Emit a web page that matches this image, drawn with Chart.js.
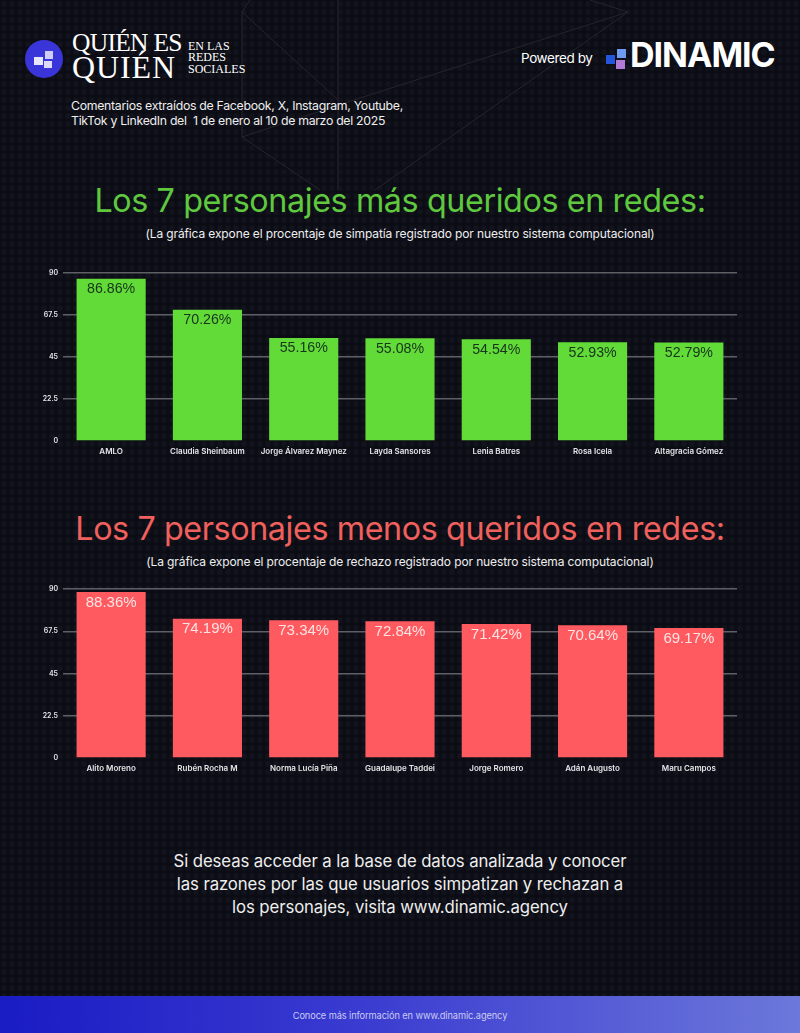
<!DOCTYPE html>
<html lang="es"><head><meta charset="utf-8">
<script src="https://cdn.jsdelivr.net/npm/chart.js@4"></script>
<style>
html,body{margin:0;padding:0;background:#0c0d15}
#page{position:relative;width:800px;height:1033px;overflow:hidden;color:#fff;font-family:Inter,sans-serif;
 background-color:#0c0d14;
 background-image:radial-gradient(circle at 4px 4px,rgba(40,42,62,.22) 0,rgba(40,42,62,.22) 2.2px,transparent 3.4px);
 background-size:8px 8px}
.t{position:absolute;white-space:nowrap}
.c{left:0;width:800px;text-align:center}
canvas{position:absolute;left:0}
svg{position:absolute;left:0;top:0}
.sq{position:absolute}
</style></head><body>
<div id="page">
<svg width="800" height="300"><g stroke="#24252c" stroke-width="1" fill="none">
<path d="M250 0L242 12L338 100M242 12V137L320 190M338 0V190M590 0L628 12L360 98L242 137M628 12L375 190"/></g></svg>

<div style="position:absolute;left:25px;top:40px;width:38px;height:38px;border-radius:50%;background:#3a35d8"></div>
<div class="sq" style="left:34px;top:57px;width:9px;height:8px;background:#e8e6fa"></div>
<div class="sq" style="left:45px;top:51px;width:8px;height:8px;background:#cfcdf6"></div>
<div class="sq" style="left:44px;top:61px;width:8px;height:7px;background:#dcdaf8"></div>
<div class="t" style="left:72px;top:28px;font:25.5px/30px 'Liberation Serif',serif;letter-spacing:-.7px">QUIÉN ES</div>
<div class="t" style="left:72px;top:47px;font:32px/40px 'Liberation Serif',serif;letter-spacing:.9px">QUIÉN</div>
<div class="t" style="left:188px;top:40.5px;font:12px/11.5px 'Liberation Serif',serif">EN LAS<br>REDES<br>SOCIALES</div>
<div class="t" style="left:521px;top:50px;font:13.5px/16px Inter,sans-serif;letter-spacing:-.4px">Powered by</div>
<div class="sq" style="left:606px;top:55px;width:9px;height:9px;background:#2456dc"></div>
<div class="sq" style="left:617px;top:49px;width:9px;height:9px;background:#6e9cf2"></div>
<div class="sq" style="left:616px;top:60px;width:9px;height:9px;background:#b07ad8"></div>
<div class="t" style="left:630px;top:35px;font:700 34px/40px Inter,sans-serif;letter-spacing:-1px">DINAMIC</div>
<div class="t" style="left:71px;top:99px;font:12.3px/14.5px Inter,sans-serif;letter-spacing:-.3px;color:#eee">Comentarios extraídos de Facebook, X, Instagram, Youtube,<br>TikTok y LinkedIn del&nbsp; 1 de enero al 10 de marzo del 2025</div>

<div class="t c" style="top:181px;font:32.3px/40px Inter,sans-serif;color:#5fc83f;letter-spacing:-.4px">Los 7 personajes más queridos en redes:</div>
<div class="t c" style="top:226px;font:12px/15px Inter,sans-serif;letter-spacing:-.12px;color:#eee">(La gráfica expone el procentaje de simpatía registrado por nuestro sistema computacional)</div>
<canvas id="c1" width="800" height="220" style="top:260px;width:800px;height:220px"></canvas>

<div class="t c" style="top:509px;font:32.3px/40px Inter,sans-serif;color:#f0605c;letter-spacing:-.4px">Los 7 personajes menos queridos en redes:</div>
<div class="t c" style="top:554px;font:12px/15px Inter,sans-serif;letter-spacing:-.12px;color:#eee">(La gráfica expone el procentaje de rechazo registrado por nuestro sistema computacional)</div>
<canvas id="c2" width="800" height="220" style="top:576px;width:800px;height:220px"></canvas>

<div class="t c" style="top:850px;font:16.75px/23px Inter,sans-serif;color:#eee;letter-spacing:-.1px">Si deseas acceder a la base de datos analizada y conocer<br>las razones por las que usuarios simpatizan y rechazan a<br>los personajes, visita www.dinamic.agency</div>
<div style="position:absolute;left:0;top:996px;width:800px;height:37px;background:linear-gradient(90deg,#1a1cc4,#3a3bd0 45%,#6c78da)"></div>
<div class="t c" style="top:1009px;font:9.25px/14px Inter,sans-serif;color:#c9ccf2;letter-spacing:-.1px">Conoce más información en www.dinamic.agency</div>
</div>
<script>
const tickValues=[0,22.5,45,67.5,90];
const lovedNames=["AMLO","Claudia Sheinbaum","Jorge Álvarez Maynez","Layda Sansores","Lenia Batres","Rosa Icela","Altagracia Gómez"];
const lovedValues=[86.86,70.26,55.16,55.08,54.54,52.93,52.79];
const hatedNames=["Alito Moreno","Rubén Rocha M","Norma Lucía Piña","Guadalupe Taddei","Jorge Romero","Adán Augusto","Maru Campos"];
const hatedValues=[88.36,74.19,73.34,72.84,71.42,70.64,69.17];

const valueLabels={id:'valueLabels',afterDatasetsDraw(chart,a,o){
  const ctx=chart.ctx,meta=chart.getDatasetMeta(0),vals=chart.data.datasets[0].data;
  ctx.save();ctx.font=o.font;ctx.fillStyle=o.color;ctx.textAlign='center';ctx.textBaseline='middle';
  meta.data.forEach((b,i)=>ctx.fillText(vals[i].toFixed(2)+'%',b.x,b.y+o.offset));
  ctx.restore();
}};
function make(id,names,vals,color,labelColor,labelFont,top,height){
  new Chart(document.getElementById(id),{type:'bar',
    data:{labels:names,datasets:[{data:vals,backgroundColor:color,borderWidth:0,barPercentage:1,categoryPercentage:.718}]},
    options:{responsive:false,animation:false,
      layout:{padding:{top:top,right:63,left:0,bottom:0}},
      plugins:{legend:{display:false},tooltip:{enabled:false},title:{display:false},
        valueLabels:{font:labelFont,color:labelColor,offset:10.5}},
      scales:{
        x:{grid:{display:false,drawTicks:false},border:{display:false},
           ticks:{color:'#e4e4e8',font:{family:'Inter',size:8,weight:'600'},padding:6,maxRotation:0,autoSkip:false},
           afterFit(s){s.height=220-top-height}},
        y:{min:0,max:90,border:{display:false},
           grid:{color:c=>c.tick.value===0?'transparent':'#5f6066',lineWidth:1.5,drawTicks:false},
           afterBuildTicks(s){s.ticks=tickValues.map(v=>({value:v}))},
           ticks:{color:'#e4e4e8',font:{family:'Inter',size:7,weight:'600'},padding:5,callback:v=>String(v)},
           afterFit(s){s.width=63}}
      }},plugins:[valueLabels]});
}
make('c1',lovedNames,lovedValues,'#62da38','#17351a','14.2px "Liberation Sans"',13,168);
make('c2',hatedNames,hatedValues,'#ff5a60','#fbe3e3','15px "Liberation Sans"',13,169);
</script>
</body></html>
